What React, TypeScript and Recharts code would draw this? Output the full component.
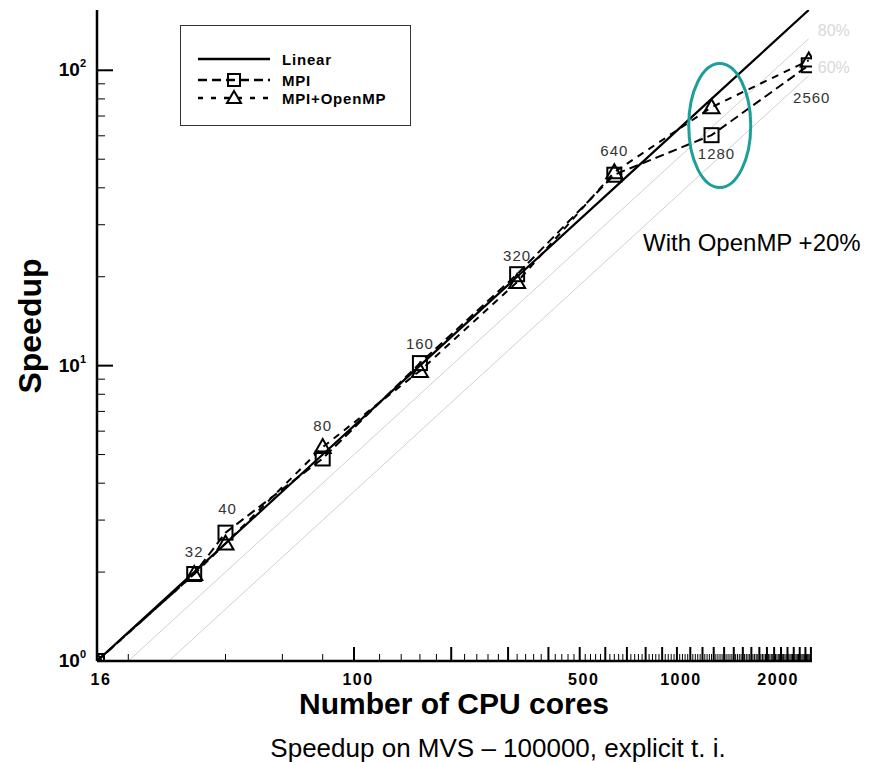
import { LineChart, Line, XAxis, YAxis, Legend, LabelList, ReferenceDot } from 'recharts'

const cores = [16, 32, 40, 80, 160, 320, 640, 1280, 2560]
const linearSpeedup = [1, 2, 2.5, 5, 10, 20, 40, 80, 160]
const mpiSpeedup = [1, 1.97, 2.72, 4.85, 10.2, 20.4, 44.3, 60.3, 104]
const hybridSpeedup = [1, 1.97, 2.5, 5.3, 9.6, 19.2, 45.2, 75, 108]
const pointLabels = ['', '32', '40', '80', '160', '320', '640', '1280', '2560']

// efficiency guide lines
const eff80Cores = [20, 2560]
const eff80Speedup = [1, 128]
const eff80Tags = ['', '80%']
const eff60Cores = [26.7, 2560]
const eff60Speedup = [1, 96]
const eff60Tags = ['', '60%']

const xLabelTicks = [16, 100, 500, 1000, 2000]
const yLabelTicks = [1, 10, 100]

const FONT = 'Arial, "Liberation Sans", Helvetica, sans-serif'

const chartData = cores.map((c, i) => ({
  cores: c,
  linear: linearSpeedup[i],
  mpi: mpiSpeedup[i],
  hybrid: hybridSpeedup[i],
  label: pointLabels[i],
}))
const eff80Data = eff80Cores.map((c, i) => ({ cores: c, eff: eff80Speedup[i], tag: eff80Tags[i] }))
const eff60Data = eff60Cores.map((c, i) => ({ cores: c, eff: eff60Speedup[i], tag: eff60Tags[i] }))

// tecplot-style ticks: every 20 cores, long ones every 100
const xTicks: number[] = [16]
for (let v = 20; v <= 2600; v += 20) xTicks.push(v)
const yTicks: number[] = []
for (const d of [1, 10]) for (let m = 1; m <= 9; m++) yTicks.push(m * d)
yTicks.push(100)

const labelShift: Record<number, [number, number]> = {
  1: [0, -23], 2: [2, -24], 3: [0, -33], 4: [0, -20],
  5: [0, -19], 6: [0, -24], 7: [5, 18], 8: [3, 32],
}

const XTick = (props: any) => {
  const { x, y, payload } = props
  const v = payload.value
  const major = v % 100 === 0
  return (
    <g>
      {v !== 16 && (
        <line x1={x} x2={x} y1={y} y2={y - (major ? 14 : 7)} stroke="#000" strokeWidth={major ? 2 : 1} />
      )}
      {xLabelTicks.includes(v) && (
        <text x={x + 4} y={y + 18} textAnchor="middle" dominantBaseline="central"
          fontFamily={FONT} fontWeight="bold" fontSize={16} letterSpacing={1.5} fill="#000">
          {v}
        </text>
      )}
    </g>
  )
}

const YTick = (props: any) => {
  const { x, y, payload } = props
  const v = payload.value
  const major = yLabelTicks.includes(v)
  return (
    <g>
      <line x1={x} x2={x + (major ? 16 : 8)} y1={y} y2={y} stroke="#000" strokeWidth={major ? 2 : 1} />
      {major && (
        <text x={x - 11} y={y + 6} textAnchor="end" fontFamily={FONT} fontWeight="bold" fontSize={19} fill="#000">
          10<tspan dy={-9} fontSize={11}>{Math.round(Math.log10(v))}</tspan>
        </text>
      )}
    </g>
  )
}

const squareDot = (p: any) => (
  <rect key={`sq-${p.index}`} x={p.cx - 7} y={p.cy - 7} width={14} height={14}
    fill="none" stroke="#000" strokeWidth={2} />
)
const triangleDot = (p: any) => (
  <path key={`tr-${p.index}`} d={`M${p.cx},${p.cy - 8} L${p.cx + 8},${p.cy + 6} L${p.cx - 8},${p.cy + 6} Z`}
    fill="none" stroke="#000" strokeWidth={2} />
)

const PointLabel = (props: any) => {
  const { x, y, value, index } = props
  if (!value) return null
  const [dx, dy] = labelShift[index] || [0, -20]
  return (
    <text x={x + dx} y={y + dy} textAnchor="middle" dominantBaseline="central"
      fontFamily={FONT} fontSize={15} letterSpacing={1} fill="#333">
      {value}
    </text>
  )
}

const EffLabel = (props: any) => {
  const { x, y, value } = props
  if (!value) return null
  return (
    <text x={x + 9} y={y - 8} dominantBaseline="central" fontFamily={FONT} fontSize={16} fill="#d8d8d8">
      {value}
    </text>
  )
}

const legendItems = [
  { name: 'Linear', dash: undefined, marker: 'none' },
  { name: 'MPI', dash: '9 5', marker: 'square' },
  { name: 'MPI+OpenMP', dash: '5 8', marker: 'triangle' },
]
const legendRows = [34, 55, 73]

const LegendBox = () => (
  <svg width={232} height={102}>
    <rect x={0.5} y={0.5} width={230} height={100} fill="#fff" stroke="#333" strokeWidth={1} />
    {legendItems.map((it, i) => {
      const ry = legendRows[i]
      return (
        <g key={it.name}>
          <line x1={18} x2={90} y1={ry} y2={ry} stroke="#000" strokeWidth={2.5} strokeDasharray={it.dash} />
          {it.marker === 'square' && (
            <rect x={48} y={ry - 6} width={12} height={12} fill="none" stroke="#000" strokeWidth={2} />
          )}
          {it.marker === 'triangle' && (
            <path d={`M54,${ry - 7} L61,${ry + 5} L47,${ry + 5} Z`} fill="#fff" stroke="#000" strokeWidth={2} />
          )}
          <text x={102} y={ry} dominantBaseline="central" fontFamily={FONT} fontWeight="bold"
            fontSize={15} letterSpacing={0.8} fill="#000">
            {it.name}
          </text>
        </g>
      )
    })}
  </svg>
)

export default function App() {
  return (
    <div style={{ position: 'absolute', left: 0, top: 0, width: 896, height: 762, background: '#fff', fontFamily: FONT }}>
      <LineChart width={896} height={762} data={chartData}
        margin={{ top: 10, right: 84, bottom: 100, left: 96 }}>
        <XAxis dataKey="cores" type="number" scale="log" domain={[16, 2620]} allowDataOverflow
          ticks={xTicks} interval={0} height={1} tickSize={0} tickMargin={0} tickLine={false}
          tick={<XTick />} axisLine={{ stroke: '#000', strokeWidth: 2.5 }} />
        <YAxis type="number" scale="log" domain={[1, 160]} allowDataOverflow
          ticks={yTicks} interval={0} width={1} tickSize={0} tickMargin={0} tickLine={false}
          tick={<YTick />} axisLine={{ stroke: '#000', strokeWidth: 2.5 }} />
        <Legend layout="vertical" verticalAlign="middle" align="center" content={<LegendBox />}
          wrapperStyle={{ left: 180, top: 25, width: 232, height: 102 }} />

        <Line data={eff80Data} dataKey="eff" stroke="#d0d0d0" strokeWidth={1} dot={false}
          isAnimationActive={false} legendType="none">
          <LabelList dataKey="tag" content={<EffLabel />} />
        </Line>
        <Line data={eff60Data} dataKey="eff" stroke="#d0d0d0" strokeWidth={1} dot={false}
          isAnimationActive={false} legendType="none">
          <LabelList dataKey="tag" content={<EffLabel />} />
        </Line>
        <Line dataKey="linear" name="Linear" stroke="#000" strokeWidth={2.2} dot={false} isAnimationActive={false} />
        <Line dataKey="mpi" name="MPI" stroke="#000" strokeWidth={2} strokeDasharray="9 5"
          dot={squareDot} isAnimationActive={false}>
          <LabelList dataKey="label" content={<PointLabel />} />
        </Line>
        <Line dataKey="hybrid" name="MPI+OpenMP" stroke="#000" strokeWidth={2} strokeDasharray="7 6"
          dot={triangleDot} isAnimationActive={false} />
        <ReferenceDot x={1357} y={65} r={0} ifOverflow="visible"
          shape={(p: any) => (
            <ellipse cx={p.cx} cy={p.cy} rx={31} ry={62} fill="none" stroke="#1e9e98" strokeWidth={3} />
          )} />
      </LineChart>

      <div style={{ position: 'absolute', left: 643, top: 243, transform: 'translateY(-50%)', fontSize: 24, whiteSpace: 'nowrap' }}>
        With OpenMP +20%
      </div>
      <div style={{ position: 'absolute', left: 30, top: 326, transform: 'translate(-50%, -50%) rotate(-90deg)', fontSize: 32, fontWeight: 'bold', whiteSpace: 'nowrap' }}>
        Speedup
      </div>
      <div style={{ position: 'absolute', left: 454, top: 704, transform: 'translate(-50%, -50%)', fontSize: 30, fontWeight: 'bold', whiteSpace: 'nowrap' }}>
        Number of CPU cores
      </div>
      <div style={{ position: 'absolute', left: 498, top: 748, transform: 'translate(-50%, -50%)', fontSize: 26, whiteSpace: 'nowrap' }}>
        Speedup on MVS – 100000, explicit t. i.
      </div>
    </div>
  )
}
